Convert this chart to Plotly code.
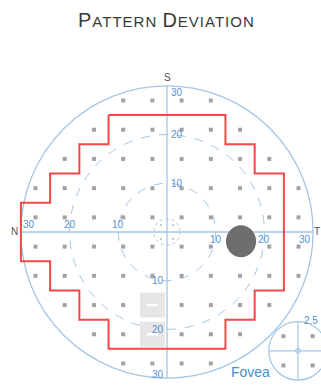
import plotly.graph_objects as go

# ---------------- data (degrees of visual field) ----------------
row_y = [27, 21, 15, 9, 3, -3, -9, -15, -21, -27]
row_x = [
    [-9, -3, 3, 9],
    [-15, -9, -3, 3, 9, 15],
    [-21, -15, -9, -3, 3, 9, 15, 21],
    [-27, -21, -15, -9, -3, 3, 9, 15, 21, 27],
    [-27, -21, -15, -9, -3, 3, 9, 15, 21, 27],
    [-27, -21, -15, -9, -3, 3, 9, 15, 21, 27],
    [-27, -21, -15, -9, -3, 3, 9, 15, 21, 27],
    [-21, -15, -9, -3, 3, 9, 15, 21],
    [-15, -9, -3, 3, 9, 15],
    [-9, -3, 3, 9],
]
# depressed points shown as grey boxes
box_x = [-3, -3]
box_y = [-15, -21]
# blind spot
blind_x = [15]
blind_y = [-3]
# 24-2 boundary outline
outline_x = [-12, 12, 12, 18, 18, 24, 24, 18, 18, 12, 12, -12, -12, -18, -18, -24, -24, -30, -30, -24, -24, -18, -18, -12, -12]
outline_y = [24, 24, 18, 18, 12, 12, -12, -12, -18, -18, -24, -24, -18, -18, -12, -12, -6, -6, 6, 6, 12, 12, 18, 18, 24]
ring_r = [10, 20, 30]
tick_vals = [10, 20, 30]
tick_labels = ["10", "20", "30"]
fovea_x = [-3, 3, -3, 3]
fovea_y = [3, 3, -3, -3]

BLUE = "rgb(164,198,230)"
LBLUE = "rgb(80,145,210)"
GREY = "#a2a2a2"

pts_x, pts_y = [], []
for y, xs in zip(row_y, row_x):
    for x in xs:
        skip = any(x == bx and y == by for bx, by in zip(box_x, box_y)) or \
               any(x == bx and y == by for bx, by in zip(blind_x, blind_y))
        if not skip:
            pts_x.append(x)
            pts_y.append(y)

fig = go.Figure()
shapes = []
# rings
for r in ring_r:
    shapes.append(dict(type="circle", xref="x", yref="y", x0=-r, x1=r, y0=-r, y1=r,
                       line=dict(color=BLUE, width=1.3 if r == 30 else 1,
                                 dash="solid" if r == 30 else "dash"), layer="below"))
# central small circle
shapes.append(dict(type="circle", xref="x", yref="y", x0=-2.7, x1=2.7, y0=-2.7, y1=2.7,
                   line=dict(color=BLUE, width=1, dash="dot"), layer="below"))
# axes
shapes.append(dict(type="line", xref="x", yref="y", x0=-30, x1=30, y0=0, y1=0,
                   line=dict(color=BLUE, width=1.3), layer="below"))
shapes.append(dict(type="line", xref="x", yref="y", x0=0, x1=0, y0=-30, y1=30,
                   line=dict(color=BLUE, width=1.3), layer="below"))
# blind spot ellipse
bx, by = blind_x[0] + 0.2, blind_y[0] + 1.1
shapes.append(dict(type="circle", xref="x", yref="y", x0=bx - 3.1, x1=bx + 3.1,
                   y0=by - 3.3, y1=by + 3.3, fillcolor="#6e6e6e",
                   line=dict(color="#6e6e6e", width=0)))
# fovea inset
fcx, fcy, fr = 26.9, -24.4, 6.0
shapes.append(dict(type="circle", xref="x", yref="y", x0=fcx - fr, x1=fcx + fr,
                   y0=fcy - fr, y1=fcy + fr, line=dict(color=BLUE, width=1.2), layer="below"))
shapes.append(dict(type="line", xref="x", yref="y", x0=fcx - fr, x1=fcx + fr, y0=fcy, y1=fcy,
                   line=dict(color=BLUE, width=1.2), layer="below"))
shapes.append(dict(type="line", xref="x", yref="y", x0=fcx, x1=fcx, y0=fcy - fr, y1=fcy + fr,
                   line=dict(color=BLUE, width=1.2), layer="below"))
shapes.append(dict(type="circle", xref="x", yref="y", x0=fcx - 0.5, x1=fcx + 0.5,
                   y0=fcy - 0.5, y1=fcy + 0.5, line=dict(color=BLUE, width=1), layer="below"))

# grey boxes
fig.add_trace(go.Scatter(x=box_x, y=box_y, mode="markers",
                         marker=dict(symbol="square", size=25, color="#e6e6e6", line=dict(width=0)),
                         hoverinfo="skip"))
fig.add_trace(go.Scatter(x=box_x, y=box_y, mode="markers",
                         marker=dict(symbol="line-ew", size=8, line=dict(color="white", width=2.5)),
                         hoverinfo="skip"))
# test points
fig.add_trace(go.Scatter(x=pts_x, y=pts_y, mode="markers",
                         marker=dict(symbol="square", size=4, color=GREY, line=dict(width=0)),
                         hoverinfo="skip"))
# fovea points
fig.add_trace(go.Scatter(x=[fcx + v for v in fovea_x], y=[fcy + v for v in fovea_y], mode="markers",
                         marker=dict(symbol="square", size=4, color=GREY, line=dict(width=0)),
                         hoverinfo="skip"))
# tiny central marks
fig.add_trace(go.Scatter(x=[-1.25, 1.25, -1.25, 1.25], y=[1.4, 1.4, -1.4, -1.4], mode="markers",
                         marker=dict(symbol="square", size=2, color="#c4c4c4", line=dict(width=0)),
                         hoverinfo="skip"))
# outline
fig.add_trace(go.Scatter(x=outline_x, y=outline_y, mode="lines",
                         line=dict(color="rgb(242,72,72)", width=2), hoverinfo="skip"))

ann = []
def A(x, y, t, xa="center", size=10, color=LBLUE, ya="middle"):
    ann.append(dict(x=x, y=y, xref="x", yref="y", text=t, showarrow=False, xanchor=xa,
                    yanchor=ya, font=dict(size=size, color=color, family="Liberation Sans")))

for v, t in zip(tick_vals, tick_labels):
    # left (above axis)
    A(-v, 1.6, t, "left" if v == 30 else "center")
    # right (below axis)
    A(v, -1.5, t, "right" if v == 30 else "center")
    # top (right of axis)
    A(0.35, min(v, 28.7), t, "left")
    # bottom (left of axis)
    A(-0.2, max(-v, -29.2), t, "right")

A(0, 31.8, "S", size=10, color="#555555")
A(-31.3, 0, "N", size=10, color="#555555")
A(30.9, 0.1, "T", size=10, color="#555555")
A(0, -31.9, "I", size=10, color="#555555")
A(31.5, -18.2, "2.5", "right", size=10)
A(17.2, -28.7, "Fovea", size=14, color="rgb(74,140,205)")

ann.append(dict(x=167 / 321, y=1 - 20 / 385, xref="paper", yref="paper", showarrow=False,
                xanchor="center", yanchor="middle",
                text='<span style="letter-spacing:1px"><span style="font-size:20px">P</span>ATTERN '
                     '<span style="font-size:20px">D</span>EVIATION</span>',
                font=dict(size=15, color="#3a3a3a", family="Liberation Sans")))

fig.update_layout(
    width=321, height=385, margin=dict(l=0, r=0, t=0, b=0),
    paper_bgcolor="white", plot_bgcolor="white", showlegend=False,
    xaxis=dict(range=[-34.29, 31.62], visible=False, fixedrange=True),
    yaxis=dict(range=[-31.42, 47.64], visible=False, fixedrange=True),
    shapes=shapes, annotations=ann,
)
fig.write_html("out.html")
